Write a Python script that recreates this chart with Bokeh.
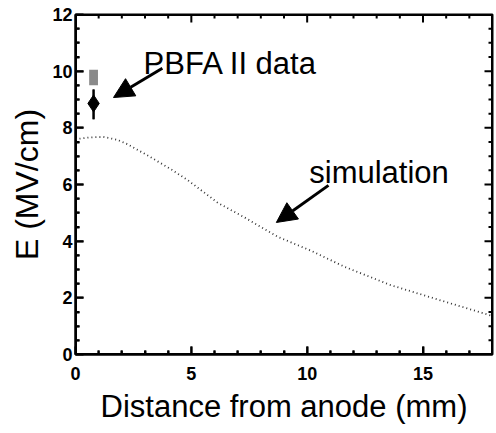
from bokeh.plotting import figure
from bokeh.models import Range1d, Arrow, NormalHead, ColumnDataSource, FixedTicker
from bokeh.core.properties import value
from bokeh.embed import file_html
from bokeh.resources import INLINE

# simulation curve (Distance mm, E MV/cm)
sim_x = [0.0, 0.6, 1.2, 1.8, 2.25, 3.1, 4.1, 4.85, 6.15, 7.27, 8.74, 10.2, 11.6, 13.6, 15.8, 17.75, 18.0]
sim_E = [7.6, 7.66, 7.68, 7.58, 7.42, 7.03, 6.55, 6.15, 5.35, 4.85, 4.15, 3.65, 3.1, 2.45, 1.9, 1.42, 1.36]

# PBFA II data point with error bar
data_x = [0.78]
data_E = [8.86]
data_lo = [8.3]
data_hi = [9.35]
# speckled upper data range
hatch_x = [0.78]
hatch_lo = [9.5]
hatch_hi = [10.05]

# annotation texts and arrows
label_text = ["PBFA II data", "simulation"]
label_x = [2.94, 10.09]
label_y = [10.27, 6.42]
arrow_x0 = [3.75, 10.92]
arrow_y0 = [10.1, 5.97]
arrow_x1 = [1.64, 8.67]
arrow_y1 = [9.07, 4.66]

x_ticks = [0, 5, 10, 15]
x_minor = [1, 2, 3, 4, 6, 7, 8, 9, 11, 12, 13, 14, 16, 17]
y_ticks = [0, 2, 4, 6, 8, 10, 12]
y_minor = [0.5, 1, 1.5, 2.5, 3, 3.5, 4.5, 5, 5.5, 6.5, 7, 7.5, 8.5, 9, 9.5, 10.5, 11, 11.5]

X_MIN, X_MAX, Y_MIN, Y_MAX = 0, 18, 0, 12

p = figure(width=496, height=433, x_range=Range1d(X_MIN, X_MAX), y_range=Range1d(Y_MIN, Y_MAX),
           output_backend="svg", toolbar_location=None,
           min_border_left=75, min_border_right=4, min_border_top=14, min_border_bottom=79)
p.grid.visible = False
p.outline_line_color = "black"
p.outline_line_width = 2

for ax in (p.xaxis[0], p.yaxis[0]):
    ax.axis_line_color = "black"
    ax.axis_line_width = 2
    ax.major_tick_in = 8
    ax.major_tick_out = 0
    ax.minor_tick_in = 4
    ax.minor_tick_out = 0
    ax.major_tick_line_width = 2
    ax.minor_tick_line_width = 2
    ax.major_tick_line_color = "black"
    ax.minor_tick_line_color = "black"
    ax.major_label_text_font_style = "bold"
    ax.major_label_text_font_size = "18px"
    ax.major_label_text_color = "black"
    ax.axis_label_text_font_style = "normal"
    ax.axis_label_text_color = "black"

xa = p.xaxis[0]
xa.ticker = FixedTicker(ticks=x_ticks, minor_ticks=x_minor)
xa.axis_label = "Distance from anode (mm)"
xa.axis_label_text_font_size = "31px"
xa.major_label_standoff = 12
xa.axis_label_standoff = 6

ya = p.yaxis[0]
ya.ticker = FixedTicker(ticks=y_ticks, minor_ticks=y_minor)
ya.axis_label = "E (MV/cm)"
ya.axis_label_text_font_size = "32px"
ya.major_label_standoff = 3
ya.axis_label_standoff = 4

# frame edges and inward ticks drawn as filled thin rectangles (screen-sized), centred on the frame edges
x_mid = (X_MIN + X_MAX) / 2
y_mid = (Y_MIN + Y_MAX) / 2
fr = dict(fill_color="black", line_color=None)
p.rect([x_mid, x_mid], [Y_MIN, Y_MAX], width=X_MAX - X_MIN, height=3, height_units="screen", **fr)
p.rect([X_MIN, X_MAX], [y_mid, y_mid], width=3, width_units="screen", height=Y_MAX - Y_MIN, **fr)
for yy in (Y_MIN, Y_MAX):
    p.rect(x_ticks, [yy] * len(x_ticks), width=2, height=16, width_units="screen", height_units="screen", **fr)
    p.rect(x_minor, [yy] * len(x_minor), width=2, height=8, width_units="screen", height_units="screen", **fr)
for xx in (X_MIN, X_MAX):
    p.rect([xx] * len(y_ticks), y_ticks, width=16, height=2, width_units="screen", height_units="screen", **fr)
    p.rect([xx] * len(y_minor), y_minor, width=8, height=2, width_units="screen", height_units="screen", **fr)

# simulation dotted line
p.line(sim_x, sim_E, line_color="#333333", line_width=1.8, line_dash="1 3")

# data error bar (filled thin bar) and diamond marker
p.rect(data_x, [(lo + hi) / 2 for lo, hi in zip(data_lo, data_hi)], width=2, width_units="screen",
       height=[hi - lo for lo, hi in zip(data_lo, data_hi)], fill_color="black", line_color=None)
src = ColumnDataSource(dict(x=data_x, lo=data_lo, hi=data_hi))
p.segment(x0="x", y0="lo", x1="x", y1="hi", source=src, line_color="black", line_width=2)
p.scatter(data_x, data_E, marker="diamond", size=17, fill_color="black", line_color="black")
# speckled upper part
p.vbar(x=hatch_x, bottom=hatch_lo, top=hatch_hi, width=0.38, fill_color="#8a8a8a", line_color=None)

# arrows
asrc = ColumnDataSource(dict(x0=arrow_x0, y0=arrow_y0, x1=arrow_x1, y1=arrow_y1))
p.add_layout(Arrow(source=asrc, x_start="x0", y_start="y0", x_end="x1", y_end="y1",
                   line_width=3, line_color="black",
                   end=NormalHead(size=20, fill_color="black", line_color="black")))

# labels
p.text(label_x, label_y, text=label_text, text_font=value("Liberation Sans"), text_font_size="31px",
       text_color="black", text_baseline="alphabetic", text_align="left")

open("out.html", "w").write(file_html(p, INLINE))
